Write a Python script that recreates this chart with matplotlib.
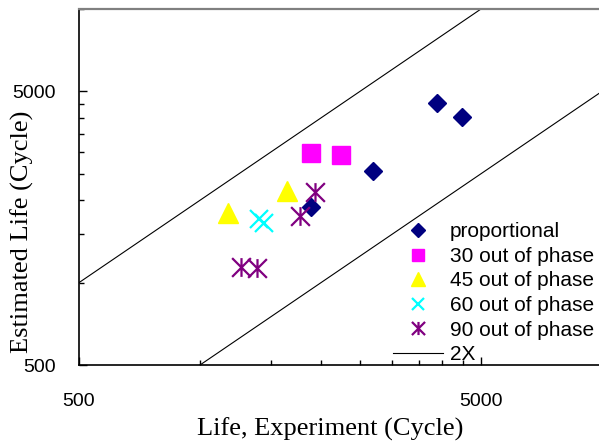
import matplotlib
matplotlib.use("Agg")
import matplotlib.pyplot as plt
import numpy as np
from matplotlib.path import Path
from matplotlib.ticker import FixedLocator, NullFormatter

# data (cycles)
prop_exp = [3890, 4490, 2690, 1890]
prop_est = [4520, 4020, 2560, 1890]
op30_exp = [1885, 2245]
op30_est = [2970, 2925]
op45_exp = [1172, 1650]
op45_est = [1795, 2160]
op60_exp = [1400, 1440]
op60_est = [1705, 1650]
op90_exp = [1935, 1775, 1265, 1385]
op90_est = [2140, 1750, 1140, 1130]

band_x = np.array([500, 10000])
band_factor = 2.0

xmajor = [500, 5000]
xminor = [1000, 1500, 2000, 2500, 3000, 3500, 4000, 4500, 10000]

# excel style star: X with a vertical bar
star = Path([(-1, -1), (1, 1), (-1, 1), (1, -1), (0, -1), (0, 1)],
            [Path.MOVETO, Path.LINETO, Path.MOVETO, Path.LINETO, Path.MOVETO, Path.LINETO])

plt.rcParams['font.family'] = ['Liberation Sans', 'DejaVu Sans']

fig = plt.figure(figsize=(5.99, 4.46), dpi=100)
ax = fig.add_axes([79/599, 1-365/446, 523/599, 356/446])

ax.plot(band_x, band_x*band_factor, color='black', lw=0.8, label='2X')
ax.plot(band_x, band_x/band_factor, color='black', lw=0.8)

ax.plot(prop_exp, prop_est, 'D', color='#000080', ms=9.5, ls='none', label='proportional')
ax.plot(op30_exp, op30_est, 's', color='#FF00FF', ms=12.5, ls='none', label='30 out of phase')
ax.plot(op45_exp, op45_est, '^', color='#FFFF00', ms=14, ls='none', label='45 out of phase')
ax.plot(op60_exp, op60_est, 'x', color='#00FFFF', ms=12.5, mew=1.6, ls='none', label='60 out of phase')
ax.plot(op90_exp, op90_est, marker=star, color='#800080', ms=13.5, mew=1.6, ls='none', label='90 out of phase')

ax.set_xscale('log')
ax.set_yscale('log')
ax.set_xlim(500, 10000)
ax.set_ylim(500, 10000)

for axis in (ax.xaxis, ax.yaxis):
    axis.set_major_locator(FixedLocator(xmajor))
    axis.set_minor_locator(FixedLocator(xminor))
    axis.set_minor_formatter(NullFormatter())
ax.set_xticklabels([str(v) for v in xmajor])
ax.set_yticklabels([str(v) for v in xmajor])

ax.tick_params(which='both', direction='in', labelsize=14, width=1)
ax.tick_params(which='major', length=6)
ax.tick_params(which='minor', length=3.5)
ax.tick_params(axis='x', pad=20)
ax.tick_params(axis='y', pad=17)

ax.spines['right'].set_visible(False)
ax.spines['top'].set_color('#808080')
ax.spines['top'].set_linewidth(1.6)
ax.spines['left'].set_linewidth(1.2)
ax.spines['bottom'].set_linewidth(1.2)

h, l = ax.get_legend_handles_labels()
order = [1, 2, 3, 4, 5, 0]
ax.legend([h[i] for i in order], [l[i] for i in order], loc='upper left',
          bbox_to_anchor=(383/599, 1-212/446), bbox_transform=fig.transFigure,
          frameon=False, fontsize=15, markerscale=0.7, borderpad=0,
          handlelength=2.4, handletextpad=0.3, labelspacing=0.265)

fig.text(330/599, 1-429/446, 'Life, Experiment (Cycle)', family='Liberation Serif',
         fontsize=19, ha='center', va='center')
fig.text(22/599, 1-232/446, 'Estimated Life (Cycle)', family='Liberation Serif',
         fontsize=19, ha='center', va='center', rotation=90)

fig.savefig('out.png', dpi=100)
